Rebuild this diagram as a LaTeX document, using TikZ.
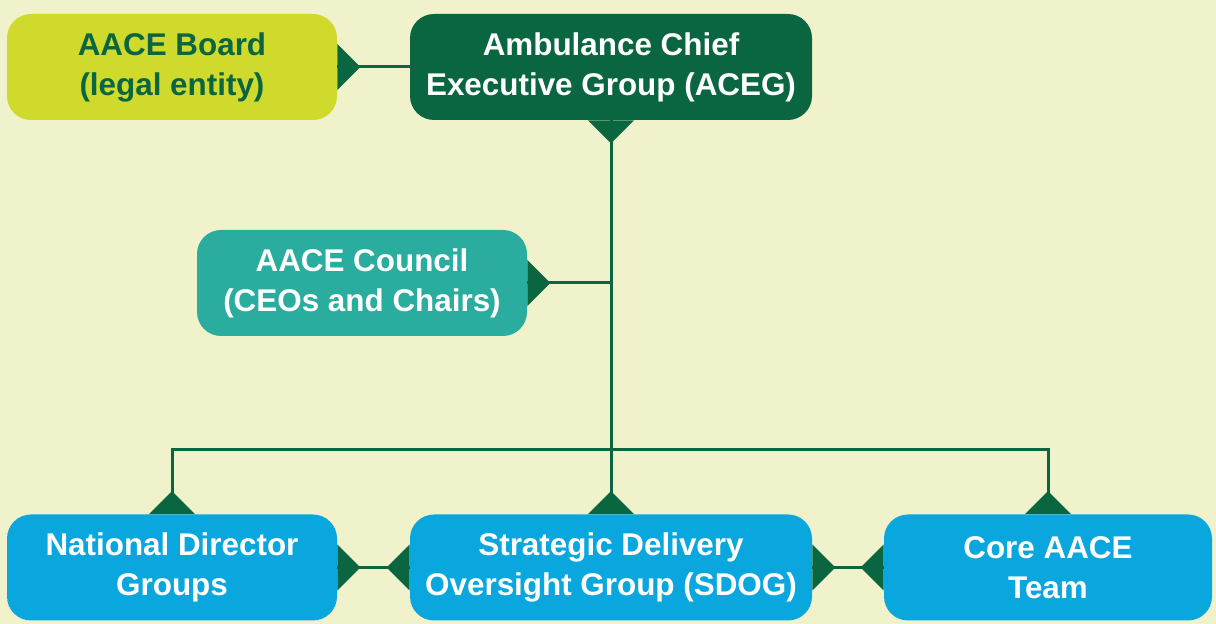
\documentclass[tikz,border=0pt]{standalone}
\usepackage{fontspec}
\setmainfont{Liberation Sans}
\usepackage{xcolor}
\usepackage{tikz}
\usetikzlibrary{calc}
\definecolor{paper}{HTML}{F0F2CC}
\definecolor{boardcol}{HTML}{CFDA2C}
\definecolor{darkgreen}{HTML}{0A6640}
\definecolor{councilcol}{HTML}{2AAD9E}
\definecolor{groupcol}{HTML}{0AA7DF}
\newcommand{\pointer}[2]{%
    \fill[darkgreen,shift={(#1)},rotate=#2] (0,-23)--(23,0)--(0,23)--cycle;%
}
\tikzset{
    box/.style={rounded corners=12pt,align=center,inner sep=0pt,
        minimum height=106*0.5pt,text=white,
        font=\fontsize{15.7}{20}\selectfont\bfseries},
    link/.style={line width=1.5pt,draw=darkgreen}
}

\begin{document}
\begin{tikzpicture}[x=0.5pt,y=-0.5pt]
        \fill[paper] (0,0) rectangle (1216,624);
        \useasboundingbox (0,0) rectangle (1216,624);
        % top row
        \node[box,fill=boardcol,text=darkgreen,minimum width=330*0.5pt] (board) at (172,67) {AACE Board\\(legal entity)};
        \node[box,fill=darkgreen,minimum width=402*0.5pt] (aceg) at (611,67) {Ambulance Chief\\Executive Group (ACEG)};
        % council
        \node[box,fill=councilcol,minimum width=330*0.5pt] (council) at (362,283) {AACE Council\\(CEOs and Chairs)};
        % bottom row
        \node[box,fill=groupcol,minimum width=330*0.5pt] (ndg) at (172,567.5) {National Director\\Groups};
        \node[box,fill=groupcol,minimum width=402*0.5pt] (sdog) at (611,567.5) {Strategic Delivery\\Oversight Group (SDOG)};
        \node[box,fill=groupcol,minimum width=328*0.5pt] (core) at (1048,567.5) {Core AACE\\Team};
        \coordinate (bus) at (aceg.south |- 0,450);
        % connectors
        \draw[link] (board.east)--(aceg.west);
        \draw[link] (aceg.south)--(bus);
        \draw[link] (council.east)--(aceg.south |- council.east);
        \draw[link] (ndg.north)--(ndg.north |- bus)--(core.north |- bus)--(core.north);
        \draw[link] (bus)--(sdog.north);
        \draw[link] (ndg.east)--(sdog.west);
        \draw[link] (sdog.east)--(core.west);
        % markers
        \pointer{board.east}{0}
        \pointer{aceg.south}{-90}
        \pointer{council.east}{0}
        \pointer{ndg.north}{90}
        \pointer{sdog.north}{90}
        \pointer{core.north}{90}
        \pointer{ndg.east}{0}
        \pointer{sdog.west}{180}
        \pointer{sdog.east}{0}
        \pointer{core.west}{180}
    \end{tikzpicture}
\end{document}
